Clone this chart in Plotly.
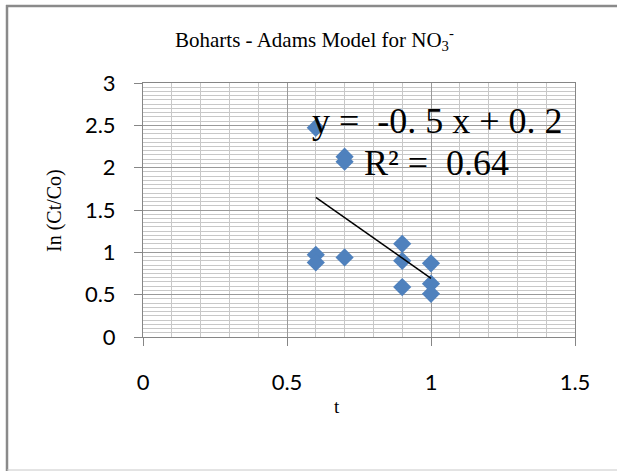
import numpy as np
import plotly.graph_objects as go

# Boharts-Adams model data for nitrate: time vs ln(Ct/Co)
t_values = [0.6, 0.6, 0.6, 0.7, 0.7, 0.7, 0.9, 0.9, 0.9, 1.0, 1.0, 1.0]
ln_ratio = [2.47, 0.97, 0.88, 2.13, 2.07, 0.94, 1.10, 0.90, 0.59, 0.87, 0.63, 0.51]

x_ticks = [0, 0.5, 1, 1.5]
y_ticks = [0, 0.5, 1, 1.5, 2, 2.5, 3]

equation_text = "y =\u00a0\u00a0-0.\u00a05\u00a0x\u00a0+\u00a00.\u00a02"
r2_text = "R²\u00a0=\u00a0\u00a00.64"
title_text = "Boharts - Adams Model for NO<sub>3</sub><sup>-</sup>"

W, H = 617, 471
L, R, T, B = 143, 42, 83, 134
pw, ph = W - L - R, H - T - B


def px(x):
    return (x - L) / pw


def py(y):
    return (H - B - y) / ph


# least-squares linear trendline over the data range
slope, intercept = np.polyfit(t_values, ln_ratio, 1)
trend_x = np.array([min(t_values), max(t_values)])
trend_y = slope * trend_x + intercept

fig = go.Figure()
fig.add_trace(go.Scatter(
    x=t_values, y=ln_ratio, mode="markers",
    marker=dict(symbol="diamond", size=14, color="#4F81BD", line=dict(width=0)),
    showlegend=False,
))
fig.add_trace(go.Scatter(
    x=trend_x, y=trend_y, mode="lines",
    line=dict(color="black", width=1.5),
    showlegend=False,
))

axis_common = dict(
    showline=True, linecolor="#868686", linewidth=1, mirror=True,
    ticks="outside", ticklen=8, tickcolor="#868686",
    gridcolor="#9a9a9a", gridwidth=1, zeroline=False,
    tickfont=dict(family="Lato", size=22, color="black"),
)

fig.update_xaxes(
    range=[0, 1.5], tickvals=x_ticks, ticklabelstandoff=18,
    minor=dict(dtick=0.1, showgrid=True, gridcolor="#c8c8c8", gridwidth=1),
    **axis_common,
)
fig.update_yaxes(
    range=[0, 3], tickvals=y_ticks, ticklabelstandoff=14,
    minor=dict(dtick=0.05, showgrid=True, gridcolor="#c8c8c8", gridwidth=1),
    **axis_common,
)

serif = "Liberation Serif"
annotations = [
    dict(text=title_text, x=px(314), y=py(39), font=dict(family=serif, size=21)),
    dict(text="In (Ct/Co)", x=px(54), y=py(211), textangle=-90,
         font=dict(family=serif, size=20)),
    dict(text="t", x=px(337), y=py(406), font=dict(family=serif, size=19)),
    dict(text=equation_text, x=px(310), y=py(121), xanchor="left",
         font=dict(family=serif, size=36)),
    dict(text=r2_text, x=px(362), y=py(163), xanchor="left",
         font=dict(family=serif, size=36)),
]
for a in annotations:
    a.setdefault("xanchor", "center")
    fig.add_annotation(xref="paper", yref="paper", showarrow=False,
                       yanchor="middle", font_color="black", **a)

# chart frame
frame = [
    dict(x0=px(6), x1=px(W + 5), y0=py(6), y1=py(6), line=dict(color="#8a8a8a", width=2.5)),
    dict(x0=px(7), x1=px(7), y0=py(5), y1=py(H + 5), line=dict(color="#8a8a8a", width=2.5)),
    dict(x0=px(7), x1=px(W + 5), y0=py(470), y1=py(470), line=dict(color="#c8c8c8", width=1)),
]
for s in frame:
    fig.add_shape(type="line", xref="paper", yref="paper", **s)

fig.update_layout(
    width=W, height=H,
    margin=dict(l=L, r=R, t=T, b=B),
    paper_bgcolor="white", plot_bgcolor="white",
)

fig.write_html("out.html")
